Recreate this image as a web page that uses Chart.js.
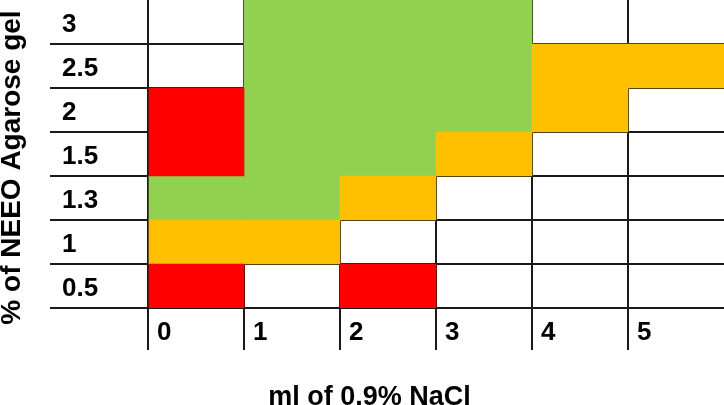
<!DOCTYPE html>
<html>
  <head>
    <title>Agarose / NaCl grid</title>
    <style>
      body {
        margin: 0;
        background: #fff;
      }
      .chart-container {
        position: relative;
        width: 724px;
        height: 405px;
      }
    </style>
  </head>
  <body>
    <div class="chart-container">
      <canvas id="grid-chart"></canvas>
    </div>

    <script src="https://cdn.jsdelivr.net/npm/chart.js"></script>
    <script>
      // Data
      var nacl = [0, 1, 2, 3, 4, 5] // ml of 0.9% NaCl (columns)
      var agarose = ["3", "2.5", "2", "1.5", "1.3", "1", "0.5"] // % gel (rows, top to bottom)

      // result per NaCl column for each agarose row: R = red, Y = amber, G = green, - = none
      var res3 = ["-", "G", "G", "G", "-", "-"]
      var res2_5 = ["-", "G", "G", "G", "Y", "Y"]
      var res2 = ["R", "G", "G", "G", "Y", "-"]
      var res1_5 = ["R", "G", "G", "Y", "-", "-"]
      var res1_3 = ["G", "G", "Y", "-", "-", "-"]
      var res1 = ["Y", "Y", "-", "-", "-", "-"]
      var res0_5 = ["R", "-", "R", "-", "-", "-"]

      var results = [res3, res2_5, res2, res1_5, res1_3, res1, res0_5]

      var colours = { R: "#FF0000", Y: "#FFC000", G: "#92D050" }
      var lineColour = "#1a1a1a"
      var font = "'Liberation Sans', Arial, sans-serif"

      // one floating-bar dataset per colour
      var datasets = Object.keys(colours).map(function (code) {
        var points = []
        results.forEach(function (row, r) {
          row.forEach(function (v, c) {
            if (v === code) points.push({ y: agarose[r], x: [nacl[c], nacl[c] + 1] })
          })
        })
        return {
          data: points,
          backgroundColor: colours[code],
          borderWidth: 0,
          grouped: false,
          barPercentage: 1,
          categoryPercentage: 1,
        }
      })

      var config = {
        type: "bar",
        data: { labels: agarose, datasets: datasets },
        options: {
          indexAxis: "y",
          responsive: true,
          maintainAspectRatio: false,
          animation: false,
          layout: { padding: 0 },
          plugins: {
            legend: { display: false },
            tooltip: { enabled: false },
            title: {
              display: true,
              // leading spaces lift the rotated title a little above the page centre
              text: "         % of NEEO Agarose gel",
              position: "left",
              color: "#000",
              font: { family: font, size: 28, weight: "bold", lineHeight: 1 },
              padding: { top: -2, bottom: 36 },
            },
            subtitle: {
              display: true,
              text: "  ml of 0.9% NaCl",
              position: "bottom",
              color: "#000",
              font: { family: font, size: 27, weight: "bold", lineHeight: 1 },
              padding: { top: 6, bottom: -6 },
            },
          },
          scales: {
            x: {
              type: "linear",
              position: "bottom",
              min: 0,
              max: 6,
              z: 1,
              afterFit: function (scale) {
                scale.height = 70
              },
              border: { display: false },
              grid: {
                color: function (ctx) {
                  return ctx.tick && ctx.tick.value === 6 ? "rgba(0,0,0,0)" : lineColour
                },
                lineWidth: 2,
                tickLength: 42,
              },
              ticks: {
                stepSize: 1,
                padding: -33,
                labelOffset: 9,
                align: "start",
                color: "#000",
                font: { family: font, size: 26, weight: "bold" },
                callback: function (v) {
                  return v < 6 ? v : ""
                },
              },
            },
            y: {
              type: "category",
              z: 1,
              afterFit: function (scale) {
                scale.width = 86
              },
              border: { display: false },
              grid: {
                offset: true,
                color: function (ctx) {
                  return ctx.index === 0 ? "rgba(0,0,0,0)" : lineColour
                },
                lineWidth: 2,
                tickLength: 98,
              },
              ticks: {
                crossAlign: "far",
                padding: -20,
                labelOffset: 3,
                color: "#000",
                font: { family: font, size: 26, weight: "bold" },
              },
            },
          },
        },
      }

      var ctx = document.getElementById("grid-chart").getContext("2d")
      new Chart(ctx, config)
    </script>
  </body>
</html>
